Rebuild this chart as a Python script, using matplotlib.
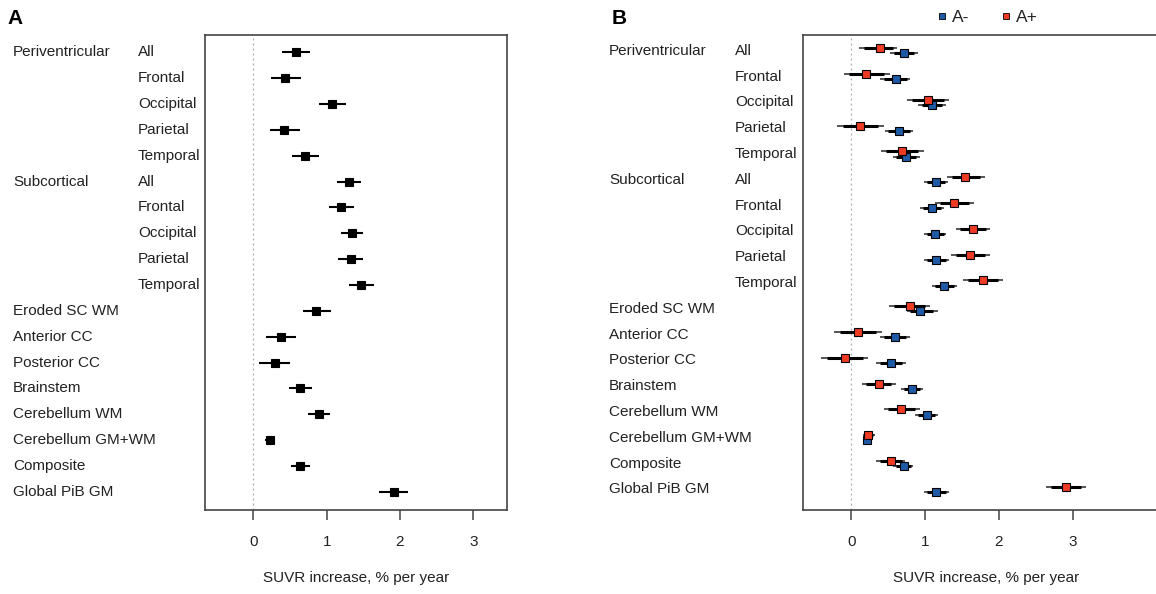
import matplotlib
matplotlib.use("Agg")
import matplotlib.pyplot as plt
import matplotlib.transforms as mtransforms

plt.rcParams['font.family'] = ['Liberation Sans', 'DejaVu Sans']

# ---------------- data ----------------
groups = ["Periventricular", "", "", "", "", "Subcortical", "", "", "", "",
          "Eroded SC WM", "Anterior CC", "Posterior CC", "Brainstem",
          "Cerebellum WM", "Cerebellum GM+WM", "Composite", "Global PiB GM"]
subregions = ["All", "Frontal", "Occipital", "Parietal", "Temporal",
              "All", "Frontal", "Occipital", "Parietal", "Temporal",
              "", "", "", "", "", "", "", ""]

# Panel A: all subjects
a_est = [0.58, 0.43, 1.07, 0.42, 0.71, 1.31, 1.20, 1.35, 1.33, 1.47,
         0.86, 0.38, 0.29, 0.64, 0.89, 0.22, 0.64, 1.92]
a_lo = [0.39, 0.24, 0.89, 0.23, 0.53, 1.14, 1.03, 1.20, 1.15, 1.30,
        0.68, 0.17, 0.08, 0.49, 0.74, 0.16, 0.51, 1.72]
a_hi = [0.77, 0.65, 1.26, 0.64, 0.90, 1.47, 1.37, 1.50, 1.50, 1.64,
        1.06, 0.58, 0.50, 0.80, 1.05, 0.28, 0.77, 2.11]

# Panel B: A- (amyloid negative)
neg_est = [0.71, 0.60, 1.09, 0.65, 0.74, 1.15, 1.09, 1.14, 1.15, 1.26,
           0.93, 0.59, 0.54, 0.82, 1.02, 0.21, 0.71, 1.15]
neg_lo = [0.53, 0.39, 0.91, 0.45, 0.56, 0.99, 0.93, 0.99, 0.98, 1.09,
          0.75, 0.39, 0.34, 0.68, 0.87, 0.16, 0.57, 0.98]
neg_hi = [0.90, 0.80, 1.28, 0.84, 0.93, 1.31, 1.26, 1.29, 1.32, 1.43,
          1.17, 0.79, 0.74, 0.97, 1.18, 0.28, 0.84, 1.33]

# Panel B: A+ (amyloid positive)
pos_est = [0.39, 0.20, 1.04, 0.12, 0.69, 1.54, 1.39, 1.65, 1.61, 1.78,
           0.79, 0.09, -0.08, 0.37, 0.68, 0.23, 0.54, 2.91]
pos_lo = [0.10, -0.10, 0.75, -0.19, 0.40, 1.30, 1.14, 1.42, 1.35, 1.52,
          0.51, -0.23, -0.41, 0.14, 0.44, 0.16, 0.33, 2.64]
pos_hi = [0.62, 0.53, 1.33, 0.44, 0.98, 1.81, 1.66, 1.88, 1.88, 2.05,
          1.07, 0.41, 0.23, 0.60, 0.93, 0.32, 0.73, 3.18]

xticks = [0, 1, 2, 3]
xlabel = "SUVR increase, % per year"
legend_labels = ["A-", "A+"]

# ---------------- style ----------------
W, H = 1156, 594
BLUE = "#1f5aa6"
RED = "#ee3b24"
SPINE = "#444444"
TXT = "#222222"
FS = 11

fig = plt.figure(figsize=(W / 100, H / 100), dpi=100)


def px_axes(left, top, right, bottom):
    return fig.add_axes([left / W, 1 - bottom / H, (right - left) / W, (bottom - top) / H])


def style_axes(ax, xlim, ylim):
    ax.set_xlim(*xlim)
    ax.set_ylim(*ylim)
    ax.set_yticks([])
    ax.set_xticks(xticks)
    ax.set_xticklabels([str(t) for t in xticks], fontsize=FS, color=TXT)
    ax.tick_params(axis="x", length=7, width=1.1, color=SPINE, pad=11)
    for s in ax.spines.values():
        s.set_color(SPINE)
        s.set_linewidth(1.2)
    ax.axvline(0, color="#aaaaaa", lw=0.9, ls=(0, (1.5, 2.5)), zorder=0)
    ax.set_xlabel(xlabel, fontsize=FS, color=TXT, labelpad=16)


def draw_labels(ax, xg, xs, ys):
    tr = mtransforms.blended_transform_factory(fig.transFigure, ax.transData)
    for i, (g, s) in enumerate(zip(groups, subregions)):
        if g:
            ax.text(xg / W, ys[i], g, transform=tr, ha="left", va="center",
                    fontsize=FS, color=TXT, clip_on=False)
        if s:
            ax.text(xs / W, ys[i], s, transform=tr, ha="left", va="center",
                    fontsize=FS, color=TXT, clip_on=False)


def draw_ci(ax, y, est, lo, hi, color, ms, inner=0.7, lw_in=1.8, lw_out=1.1):
    for yi, e, l, h in zip(y, est, lo, hi):
        ax.plot([l, h], [yi, yi], color="#555555", lw=lw_out, solid_capstyle="butt", zorder=2)
        il = e - (e - l) * inner
        ih = e + (h - e) * inner
        ax.plot([il, ih], [yi, yi], color="black", lw=lw_in, solid_capstyle="butt", zorder=3)
    ax.plot(est, y, ls="none", marker="s", ms=ms, mfc=color, mec="black", mew=0.8, zorder=4)


rows = list(range(len(groups)))

# ---------------- Panel A ----------------
axA = px_axes(205, 35, 507, 510)
style_axes(axA, (-0.66, 3.46), (17.7, -0.67))
draw_ci(axA, rows, a_est, a_lo, a_hi, "black", 5.2, inner=1.0, lw_in=1.5)
draw_labels(axA, 13, 138, rows)
fig.text(7 / W, 1 - 18 / H, "A", fontsize=15, fontweight="bold", ha="left", va="center")

# ---------------- Panel B ----------------
axB = px_axes(803, 35, 1170, 510)
style_axes(axB, (-0.655, 4.32), (17.8, -0.61))
y_pos = [r - 0.1 for r in rows]
y_neg = [r + 0.1 for r in rows]
draw_ci(axB, y_neg, neg_est, neg_lo, neg_hi, BLUE, 5.2, inner=0.75, lw_in=2.2, lw_out=1.4)
draw_ci(axB, y_pos, pos_est, pos_lo, pos_hi, RED, 5.2, inner=0.75, lw_in=2.2, lw_out=1.4)
draw_labels(axB, 609, 735, rows)
fig.text(612 / W, 1 - 18 / H, "B", fontsize=15, fontweight="bold", ha="left", va="center")

# legend
leg_ax = fig.add_axes([0, 0, 1, 1], facecolor="none")
leg_ax.set_xlim(0, W)
leg_ax.set_ylim(H, 0)
leg_ax.axis("off")
leg_ax.plot([942], [16], ls="none", marker="s", ms=4.8, mfc=BLUE, mec="black", mew=0.6)
leg_ax.plot([1006], [16], ls="none", marker="s", ms=4.8, mfc=RED, mec="black", mew=0.6)
fig.text(952 / W, 1 - 17 / H, legend_labels[0], fontsize=FS + 1.5, color=TXT, ha="left", va="center")
fig.text(1016 / W, 1 - 17 / H, legend_labels[1], fontsize=FS + 1.5, color=TXT, ha="left", va="center")

fig.savefig("out.png", dpi=100)
